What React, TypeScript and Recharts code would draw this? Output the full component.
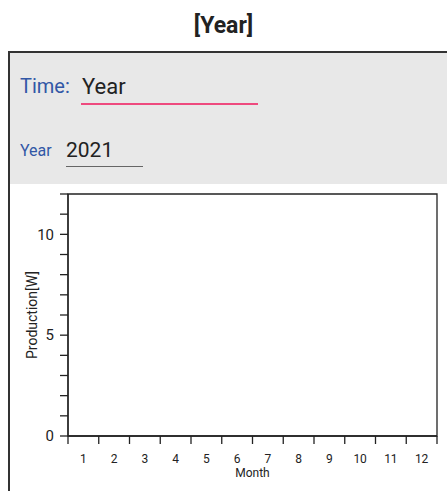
import React from 'react'
import {
  LineChart,
  Line,
  XAxis,
  YAxis,
  ReferenceArea,
} from 'recharts'

// Months shown on the x axis, production values are empty in the reference
const MONTHS = [1, 2, 3, 4, 5, 6, 7, 8, 9, 10, 11, 12]
const PRODUCTION: (number | null)[] = [null, null, null, null, null, null, null, null, null, null, null, null]
const Y_TICKS = [0, 1, 2, 3, 4, 5, 6, 7, 8, 9, 10, 11, 12]
const Y_LABELED = [0, 5, 10]

const data = MONTHS.map((m, i) => ({ month: m, production: PRODUCTION[i] }))

const CHART_W = 447
const CHART_H = 307
const MARGIN = { top: 10, right: 10, left: 0, bottom: 10 }
const Y_AXIS_W = 68
const PLOT_W = CHART_W - MARGIN.left - MARGIN.right - Y_AXIS_W
const HALF_BAND = PLOT_W / MONTHS.length / 2
const TICK_SIZE = 8
const TICK_MARGIN = 10

const INK = '#222'
const BLUE = '#3157a6'

function MonthTick(props: any) {
  const { x, y, payload, index } = props
  const axisY = y - TICK_SIZE - TICK_MARGIN
  return (
    <g>
      <line x1={x - HALF_BAND} y1={axisY} x2={x - HALF_BAND} y2={axisY + TICK_SIZE} stroke={INK} strokeWidth={1.3} />
      {index === MONTHS.length - 1 && (
        <line x1={x + HALF_BAND} y1={axisY} x2={x + HALF_BAND} y2={axisY + TICK_SIZE} stroke={INK} strokeWidth={1.3} />
      )}
      <text x={x} y={y} dy="0.71em" textAnchor="middle" fontSize={12} fill={INK}>
        {payload.value}
      </text>
    </g>
  )
}

function YLabel(props: any) {
  const vb = props.viewBox || {}
  const cx = 32
  const cy = vb.y + vb.height / 2
  return (
    <text
      x={cx}
      y={cy}
      transform={`rotate(-90 ${cx} ${cy})`}
      textAnchor="middle"
      dominantBaseline="central"
      fontSize={14}
      fill={INK}
    >
      Production[W]
    </text>
  )
}

export default function App() {
  return (
    <div
      style={{
        position: 'fixed',
        left: 0,
        top: 0,
        width: 447,
        height: 491,
        overflow: 'hidden',
        background: '#fff',
        fontFamily: 'Roboto, sans-serif',
      }}
    >
      <div
        style={{
          position: 'absolute',
          left: 0,
          width: 447,
          top: 12,
          textAlign: 'center',
          fontSize: 23,
          fontWeight: 700,
          color: INK,
        }}
      >
        [Year]
      </div>

      <div
        style={{
          position: 'absolute',
          left: 8,
          top: 51,
          width: 520,
          height: 520,
          borderLeft: '2px solid #333',
          borderTop: '2px solid #333',
        }}
      >
        <div style={{ position: 'absolute', left: 0, top: 0, width: '100%', height: 131, background: '#e8e8e8' }} />
        {/* Time selector */}
        <div style={{ position: 'absolute', left: 10, top: 21, fontSize: 20, color: BLUE }}>Time:</div>
        <div style={{ position: 'absolute', left: 72, top: 21, fontSize: 22, color: INK }}>Year</div>
        <div style={{ position: 'absolute', left: 71, top: 50, width: 177, height: 2, background: '#ee4a7e' }} />
        {/* Year selector */}
        <div style={{ position: 'absolute', left: 10, top: 88, fontSize: 16, color: BLUE }}>Year</div>
        <div style={{ position: 'absolute', left: 56, top: 85, fontSize: 21, color: INK }}>2021</div>
        <div style={{ position: 'absolute', left: 56, top: 113, width: 77, height: 1, background: '#666' }} />
      </div>

      <div style={{ position: 'absolute', left: 0, top: 184 }}>
        <LineChart width={CHART_W} height={CHART_H} data={data} margin={MARGIN}>
          <XAxis
            dataKey="month"
            type="number"
            domain={[0.5, 12.5]}
            allowDataOverflow
            ticks={MONTHS}
            interval={0}
            height={45}
            axisLine={{ stroke: INK, strokeWidth: 1.3 }}
            tickLine={false}
            tickSize={TICK_SIZE}
            tickMargin={TICK_MARGIN}
            tick={<MonthTick />}
            label={{ value: 'Month', position: 'insideBottom', offset: 4, fontSize: 12, fill: INK }}
          />
          <YAxis
            type="number"
            domain={[0, 12]}
            allowDataOverflow
            ticks={Y_TICKS}
            interval={0}
            width={Y_AXIS_W}
            axisLine={{ stroke: INK, strokeWidth: 1.3 }}
            tickLine={{ stroke: INK, strokeWidth: 1.3 }}
            tickSize={TICK_SIZE}
            tickMargin={6}
            tick={{ fontSize: 15, fill: INK }}
            tickFormatter={(v: number) => (Y_LABELED.includes(v) ? String(v) : '')}
            label={<YLabel />}
          />
          <ReferenceArea
            x1={0.5}
            x2={12.5}
            y1={0}
            y2={12}
            ifOverflow="visible"
            fill="none"
            stroke={INK}
            strokeWidth={1.3}
            strokeOpacity={1}
          />
          <Line dataKey="production" stroke="#1f77b4" dot={false} isAnimationActive={false} />
        </LineChart>
      </div>
    </div>
  )
}
